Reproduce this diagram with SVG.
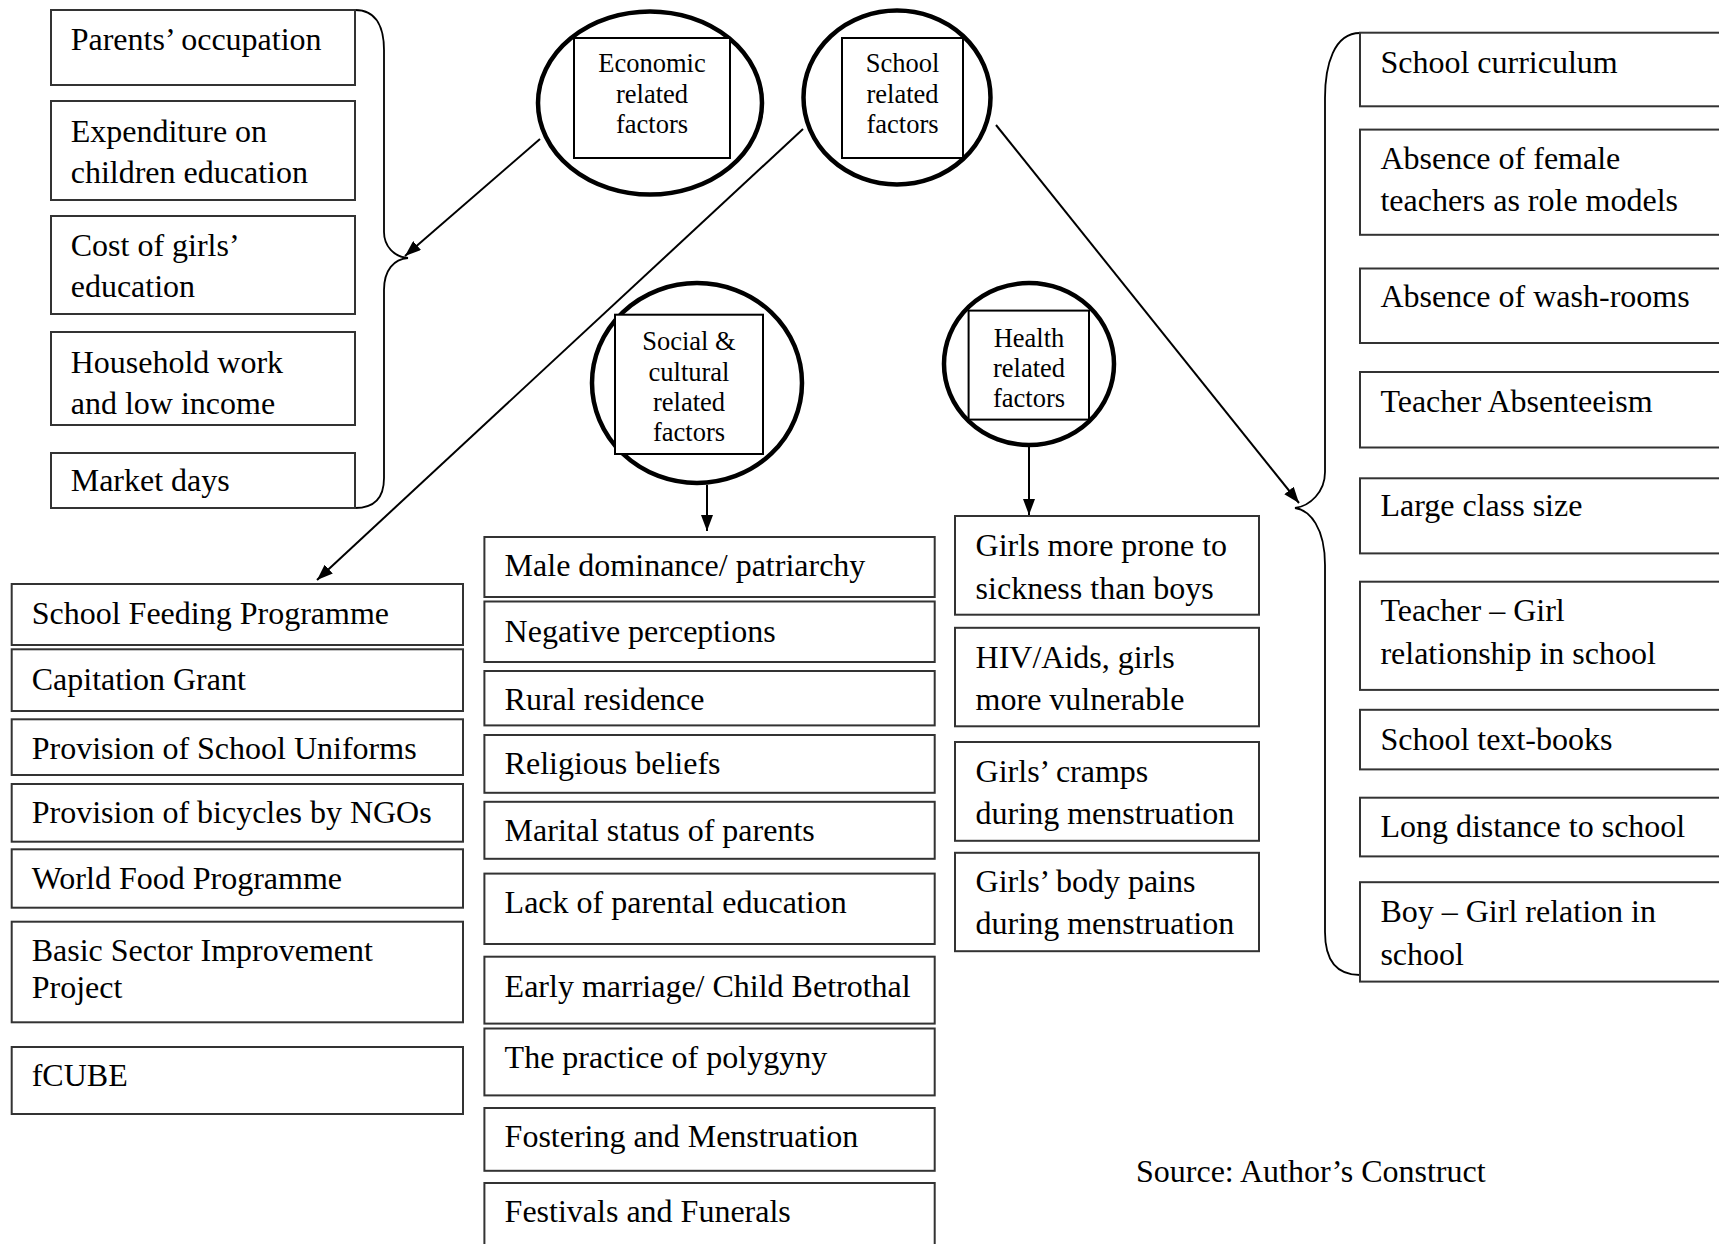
<svg xmlns="http://www.w3.org/2000/svg" width="1719" height="1244" viewBox="0 0 1719 1244">
<defs>
<style>
.t{font-family:"Liberation Serif","Times New Roman",serif;font-size:32px;fill:#000}
.c{font-family:"Liberation Serif","Times New Roman",serif;font-size:26.5px;fill:#000;text-anchor:middle}
.bx{fill:#fff;stroke:#333;stroke-width:2}
.ib{fill:#fff;stroke:#000;stroke-width:2}
.ring{fill:none;stroke:#000;stroke-width:4.5}
.ln{fill:none;stroke:#000;stroke-width:2}
.br{fill:none;stroke:#000;stroke-width:1.8}
</style>
<marker id="ah" viewBox="0 0 16 12" refX="16" refY="6" markerWidth="16" markerHeight="12" markerUnits="userSpaceOnUse" orient="auto">
<path d="M0,0 L16,6 L0,12 z" fill="#000"/>
</marker>
</defs>
<rect width="1719" height="1244" fill="#fff"/>

<g id="connectors">
<line class="ln" x1="540" y1="139" x2="405" y2="256" marker-end="url(#ah)"/>
<line class="ln" x1="803" y1="129" x2="317" y2="580" marker-end="url(#ah)"/>
<line class="ln" x1="996" y1="125" x2="1299" y2="503" marker-end="url(#ah)"/>
<line class="ln" x1="707" y1="485" x2="707" y2="531" marker-end="url(#ah)"/>
<line class="ln" x1="1029" y1="447" x2="1029" y2="515" marker-end="url(#ah)"/>
<path class="br" d="M355,10 C378,10 384,30 384,50 L384,232 C384,246 394,257 408,258 C394,259 384,270 384,290 L384,478 C384,496 376,508 355,508"/>
<path class="br" d="M1360,33 C1334,33 1325,65 1325,98 L1325,472 C1325,492 1310,506 1295,508 C1310,510 1325,528 1325,565 L1325,932 C1325,962 1338,975 1360,975"/>
</g>

<g id="economic">
<ellipse class="ring" cx="650" cy="103" rx="112" ry="91.5"/>
<rect class="ib" x="574" y="38" width="156" height="120"/>
<text class="c"><tspan x="652" y="72">Economic</tspan><tspan x="652" y="102.5">related</tspan><tspan x="652" y="132.5">factors</tspan></text>
</g>
<g id="school">
<ellipse class="ring" cx="897" cy="97.5" rx="93.5" ry="87"/>
<rect class="ib" x="842" y="38" width="121" height="120"/>
<text class="c"><tspan x="902.5" y="72">School</tspan><tspan x="902.5" y="102.5">related</tspan><tspan x="902.5" y="132.5">factors</tspan></text>
</g>
<g id="social">
<ellipse class="ring" cx="697" cy="383" rx="105" ry="100"/>
<rect class="ib" x="615" y="314.7" width="148" height="139.3"/>
<text class="c"><tspan x="689" y="350">Social &amp;</tspan><tspan x="689" y="380.5">cultural</tspan><tspan x="689" y="411">related</tspan><tspan x="689" y="441">factors</tspan></text>
</g>
<g id="health">
<ellipse class="ring" cx="1029" cy="364" rx="85" ry="81"/>
<rect class="ib" x="968.6" y="310.6" width="120.4" height="109"/>
<text class="c"><tspan x="1029" y="346.5">Health</tspan><tspan x="1029" y="376.5">related</tspan><tspan x="1029" y="406.5">factors</tspan></text>
</g>

<g id="econ-items">
<g id="e1"><rect class="bx" x="51" y="10" width="304" height="75"/><text class="t" x="70.7" y="50">Parents’ occupation</text></g>
<g id="e2"><rect class="bx" x="51" y="101" width="304" height="99"/><text class="t"><tspan x="70.7" y="141.5">Expenditure on</tspan><tspan x="70.7" y="182.5">children education</tspan></text></g>
<g id="e3"><rect class="bx" x="51" y="216" width="304" height="98"/><text class="t"><tspan x="70.7" y="256">Cost of girls’</tspan><tspan x="70.7" y="297">education</tspan></text></g>
<g id="e4"><rect class="bx" x="51" y="332" width="304" height="93"/><text class="t"><tspan x="70.7" y="372.5">Household work</tspan><tspan x="70.7" y="414">and low income</tspan></text></g>
<g id="e5"><rect class="bx" x="51" y="453" width="304" height="55"/><text class="t" x="70.7" y="491">Market days</text></g>
</g>

<g id="intervention-items">
<g id="i1"><rect class="bx" x="11.7" y="584" width="451.3" height="61"/><text class="t" x="31.7" y="624">School Feeding Programme</text></g>
<g id="i2"><rect class="bx" x="11.7" y="649.3" width="451.3" height="61.7"/><text class="t" x="31.7" y="690">Capitation Grant</text></g>
<g id="i3"><rect class="bx" x="11.7" y="719.3" width="451.3" height="55.7"/><text class="t" x="31.7" y="759">Provision of School Uniforms</text></g>
<g id="i4"><rect class="bx" x="11.7" y="784" width="451.3" height="57.7"/><text class="t" x="31.7" y="823.3">Provision of bicycles by NGOs</text></g>
<g id="i5"><rect class="bx" x="11.7" y="849.3" width="451.3" height="58.4"/><text class="t" x="31.7" y="889">World Food Programme</text></g>
<g id="i6"><rect class="bx" x="11.7" y="921.7" width="451.3" height="100.6"/><text class="t"><tspan x="31.7" y="961">Basic Sector Improvement</tspan><tspan x="31.7" y="997.7">Project</tspan></text></g>
<g id="i7"><rect class="bx" x="11.7" y="1047" width="451.3" height="67"/><text class="t" x="31.7" y="1086">fCUBE</text></g>
</g>

<g id="social-items">
<g id="s1"><rect class="bx" x="484.4" y="537" width="450.3" height="60"/><text class="t" x="504.6" y="576">Male dominance/ patriarchy</text></g>
<g id="s2"><rect class="bx" x="484.4" y="601.5" width="450.3" height="60.5"/><text class="t" x="504.6" y="642">Negative perceptions</text></g>
<g id="s3"><rect class="bx" x="484.4" y="671" width="450.3" height="54.4"/><text class="t" x="504.6" y="709.7">Rural residence</text></g>
<g id="s4"><rect class="bx" x="484.4" y="735" width="450.3" height="57.8"/><text class="t" x="504.6" y="774">Religious beliefs</text></g>
<g id="s5"><rect class="bx" x="484.4" y="801.8" width="450.3" height="57"/><text class="t" x="504.6" y="841">Marital status of parents</text></g>
<g id="s6"><rect class="bx" x="484.4" y="873.6" width="450.3" height="70.4"/><text class="t" x="504.6" y="912.7">Lack of parental education</text></g>
<g id="s7"><rect class="bx" x="484.4" y="956.7" width="450.3" height="66.9"/><text class="t" x="504.6" y="997">Early marriage/ Child Betrothal</text></g>
<g id="s8"><rect class="bx" x="484.4" y="1028.5" width="450.3" height="66.9"/><text class="t" x="504.6" y="1067.6">The practice of polygyny</text></g>
<g id="s9"><rect class="bx" x="484.4" y="1108" width="450.3" height="62.8"/><text class="t" x="504.6" y="1147">Fostering and Menstruation</text></g>
<g id="s10"><rect class="bx" x="484.4" y="1183" width="450.3" height="80"/><text class="t" x="504.6" y="1221.6">Festivals and Funerals</text></g>
</g>

<g id="health-items">
<g id="h1"><rect class="bx" x="955" y="516" width="304" height="98.7"/><text class="t"><tspan x="975.6" y="556">Girls more prone to</tspan><tspan x="975.6" y="598.5">sickness than boys</tspan></text></g>
<g id="h2"><rect class="bx" x="955" y="627.8" width="304" height="98.5"/><text class="t"><tspan x="975.6" y="667.5">HIV/Aids, girls</tspan><tspan x="975.6" y="709.5">more vulnerable</tspan></text></g>
<g id="h3"><rect class="bx" x="955" y="742" width="304" height="98.8"/><text class="t"><tspan x="975.6" y="782">Girls’ cramps</tspan><tspan x="975.6" y="824">during menstruation</tspan></text></g>
<g id="h4"><rect class="bx" x="955" y="852.8" width="304" height="98.4"/><text class="t"><tspan x="975.6" y="892">Girls’ body pains</tspan><tspan x="975.6" y="934">during menstruation</tspan></text></g>
</g>

<g id="school-items">
<g id="r1"><rect class="bx" x="1360" y="32.7" width="370" height="73.6"/><text class="t" x="1380.4" y="72.6">School curriculum</text></g>
<g id="r2"><rect class="bx" x="1360" y="129.6" width="370" height="105.2"/><text class="t"><tspan x="1380.4" y="168.7">Absence of female</tspan><tspan x="1380.4" y="210.5">teachers as role models</tspan></text></g>
<g id="r3"><rect class="bx" x="1360" y="268.5" width="370" height="74.5"/><text class="t" x="1380.4" y="306.6">Absence of wash-rooms</text></g>
<g id="r4"><rect class="bx" x="1360" y="372" width="370" height="75.5"/><text class="t" x="1380.4" y="412">Teacher Absenteeism</text></g>
<g id="r5"><rect class="bx" x="1360" y="478.3" width="370" height="75.1"/><text class="t" x="1380.4" y="516">Large class size</text></g>
<g id="r6"><rect class="bx" x="1360" y="581.7" width="370" height="108.2"/><text class="t"><tspan x="1380.4" y="621">Teacher – Girl</tspan><tspan x="1380.4" y="664">relationship in school</tspan></text></g>
<g id="r7"><rect class="bx" x="1360" y="709.8" width="370" height="59.6"/><text class="t" x="1380.4" y="749.5">School text-books</text></g>
<g id="r8"><rect class="bx" x="1360" y="797.7" width="370" height="58.7"/><text class="t" x="1380.4" y="836.5">Long distance to school</text></g>
<g id="r9"><rect class="bx" x="1360" y="882.2" width="370" height="99.4"/><text class="t"><tspan x="1380.4" y="922">Boy – Girl relation in</tspan><tspan x="1380.4" y="964.5">school</tspan></text></g>
</g>

<text id="source" class="t" x="1136" y="1181.7">Source: Author’s Construct</text>
</svg>
